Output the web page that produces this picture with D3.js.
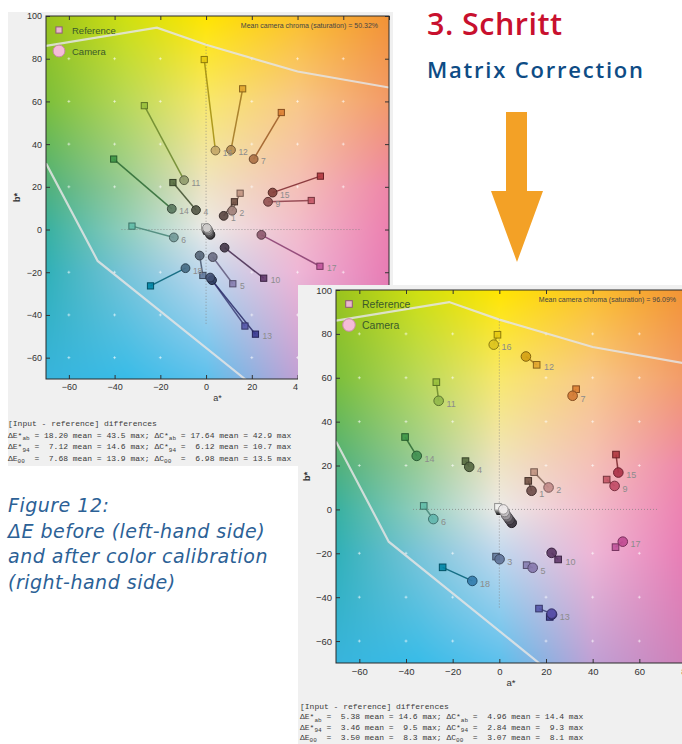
<!DOCTYPE html>
<html><head><meta charset="utf-8">
<script src="https://cdn.jsdelivr.net/npm/d3@7/dist/d3.min.js"></script>
<style>html,body{margin:0;padding:0;background:#fff;overflow:hidden}svg{display:block}</style>
</head><body>
<script>
// ---------------- DATA ----------------
const patchIds = d3.range(1, 25);
const patchL = [37.99,65.71,49.93,43.14,55.11,70.72,62.66,40.02,51.12,30.33,72.53,71.94,28.78,55.26,42.10,81.73,51.94,51.04,96.54,81.26,66.77,50.87,35.66,20.46];
const refA = [12.4,14.9,-1.4,-14.5,11.7,-32.4,32.9,17.0,46.0,25.2,-27.0,16.0,21.6,-40.4,50.0,-0.8,49.8,-24.3,-0.6,-0.4,-0.2,0.0,0.2,0.4];
const refB = [13.0,17.0,-21.5,22.0,-25.4,1.6,54.8,-45.2,13.6,-22.8,58.0,65.9,-49.0,33.0,25.0,79.6,-17.2,-26.4,1.2,0.8,0.4,0.0,-0.4,-0.8];
const camA_before = [7.7,11.4,-2.8,-4.4,2.9,-14.1,20.8,1.8,27.1,8.1,-9.6,10.9,2.6,-15.0,29.1,4.1,24.2,-9.0,0.4,0.8,1.1,1.4,1.7,1.9];
const camB_before = [6.4,8.8,-12.2,9.1,-12.9,-3.7,33.0,-22.5,13.0,-8.5,23.1,37.3,-23.7,9.7,17.3,37.0,-2.5,-18.1,0.7,0.0,-0.8,-1.5,-2.1,-2.5];
const camA_after = [13.8,21.1,0.1,-12.9,14.3,-28.3,31.4,22.4,49.4,22.4,-26.0,11.4,22.6,-35.4,51.0,-2.4,52.9,-11.6,1.7,2.3,2.9,3.6,4.4,5.3];
const camB_after = [8.5,10.0,-22.7,19.4,-26.6,-4.4,51.8,-47.5,10.7,-19.8,49.5,69.7,-47.9,24.4,16.8,75.1,-14.7,-32.6,0.0,-1.2,-2.6,-3.6,-4.8,-6.1];
// which marker carries the number label: c = camera, r = reference, '' = hidden
const labelAt_before = ['c','c','','c','r','c','c','','c','r','c','c','r','c','c','c','r','c'];
const labelAt_after  = ['c','c','c','c','c','c','c','','c','r','c','r','c','c','c','c','c','c'];
const aTicks = [-60,-40,-20,0,20,40,60,80];
const bTicks = [-60,-40,-20,0,20,40,60,80,100];
const gamutTop = [[-70,86],[-21.5,94.5],[0,86.5],[40,74],[80,66.5]];
const gamutBottom = [[-70,31],[-47.4,-14.7],[17,-70],[25,-77]];
const chroma_before = "50.32%", chroma_after = "96.09%";
const diff_before = [[18.20,43.5,17.64,42.9],[7.12,14.6,6.12,10.7],[7.68,13.9,6.98,13.5]];
const diff_after  = [[5.38,14.6,4.96,14.4],[3.46,9.5,2.84,9.3],[3.50,8.3,3.07,8.1]];
const captionLines = ["Figure 12:","\u0394E before (left-hand side)","and after color calibration","(right-hand side)"];
const stepTitle = "3. Schritt", stepSub = "Matrix Correction";

// background colour stops of the a*b* plane
const bgA = [-70,-35,0,40,80];
const bgB = [-70,-20,0,20,60,100];
const bgC = [
  ["#38b4dc","#38bce8","#5cc0ec","#c0a0d4","#d080b8"],
  ["#30b0b8","#78c4d8","#c0d8ee","#eeb6d6","#e87cb4"],
  ["#38b0a0","#90cebc","#eceae8","#f2bccc","#ec80b0"],
  ["#4fb07c","#98cc98","#efe4c4","#f4c0b8","#ee86a8"],
  ["#7cbf3a","#b8d858","#f8e86c","#f8c888","#f29a68"],
  ["#9ac31e","#cfe010","#ffe500","#fbc02a","#f29236"]
];

// ---------------- DRAW ----------------
const svg = d3.select('body').append('svg').attr('width',682).attr('height',744);
const bgRGB = bgC.map(r => r.map(c => { const o = d3.rgb(c); return [o.r,o.g,o.b]; }));

function seg(levels, v){
  let i = 0;
  while (i < levels.length-2 && v > levels[i+1]) i++;
  let t = (v - levels[i])/(levels[i+1]-levels[i]);
  t = Math.max(0, Math.min(1, t));
  return [i, t];
}

function makeBg(x, y){
  const [x0,x1] = x.range(), [y1,y0] = y.range();
  const w = Math.round(x1-x0), h = Math.round(y1-y0);
  const cv = document.createElement('canvas'); cv.width = w; cv.height = h;
  const ctx = cv.getContext('2d'); const img = ctx.createImageData(w,h);
  for (let j=0;j<h;j++){
    const b = y.invert(y0+j+0.5); const [bi,bt] = seg(bgB,b);
    for (let i=0;i<w;i++){
      const a = x.invert(x0+i+0.5); const [ai,at] = seg(bgA,a);
      const c00=bgRGB[bi][ai], c01=bgRGB[bi][ai+1], c10=bgRGB[bi+1][ai], c11=bgRGB[bi+1][ai+1];
      const k=(j*w+i)*4;
      for (let ch=0;ch<3;ch++){
        const top = c00[ch]*(1-at)+c01[ch]*at, bot = c10[ch]*(1-at)+c11[ch]*at;
        img.data[k+ch] = top*(1-bt)+bot*bt;
      }
      img.data[k+3]=255;
    }
  }
  ctx.putImageData(img,0,0);
  return {url: cv.toDataURL(), x:x0, y:y0, w, h};
}

function drawChart(cfg){
  const g = svg.append('g');
  const [px,py,pw,ph] = cfg.panel;
  g.append('rect').attr('x',px).attr('y',py).attr('width',pw).attr('height',ph).attr('fill','#f0f0f0');
  const [x0,y0,x1,y1] = cfg.plot;
  const x = d3.scaleLinear().domain([-70,80]).range([x0,x1]);
  const y = d3.scaleLinear().domain([-70,100]).range([y1,y0]);
  const clipId = 'clip'+cfg.id;
  g.append('clipPath').attr('id',clipId).append('rect').attr('x',x0).attr('y',y0).attr('width',x1-x0).attr('height',y1-y0);
  const bg = makeBg(x,y);
  g.append('image').attr('href',bg.url).attr('x',bg.x).attr('y',bg.y).attr('width',bg.w).attr('height',bg.h).attr('preserveAspectRatio','none');
  const p = g.append('g').attr('clip-path',`url(#${clipId})`);
  // grid marks
  const gridPts = [];
  aTicks.forEach(a => bTicks.forEach(b => { if (a!==0 && b!==0 && b<100 && a<80) gridPts.push([a,b]); }));
  p.selectAll('.gm').data(gridPts).join('path')
    .attr('d', d => `M${x(d[0])-1.5},${y(d[1])}h3M${x(d[0])},${y(d[1])-1.5}v3`)
    .attr('stroke','#ffffff').attr('stroke-opacity',0.5).attr('stroke-width',1);
  // dotted axes
  p.append('line').attr('x1',x(0)).attr('x2',x(0)).attr('y1',y(87)).attr('y2',y(-45))
    .attr('stroke','#808080').attr('stroke-width',0.9).attr('stroke-dasharray','1,2').attr('stroke-opacity',0.8);
  p.append('line').attr('x1',x(-37)).attr('x2',x(68)).attr('y1',y(0)).attr('y2',y(0))
    .attr('stroke','#808080').attr('stroke-width',0.9).attr('stroke-dasharray','1,2').attr('stroke-opacity',0.8);
  // gamut boundary
  const ln = d3.line().x(d=>x(d[0])).y(d=>y(d[1]));
  [gamutTop, gamutBottom].forEach(pts => p.append('path').attr('d',ln(pts)).attr('fill','none')
      .attr('stroke','#e4e4e4').attr('stroke-opacity',0.85).attr('stroke-width',2.2));
  const idx = d3.range(24);
  const refCol = i => d3.lab(patchL[i], refA[i], refB[i]).rgb().clamp();
  const camCol = i => d3.lab(patchL[i]*cfg.camLf, cfg.camA[i], cfg.camB[i]).rgb().clamp();
  // connection lines
  p.selectAll('.cl').data(idx).join('line')
    .attr('x1',i=>x(refA[i])).attr('y1',i=>y(refB[i]))
    .attr('x2',i=>x(cfg.camA[i])).attr('y2',i=>y(cfg.camB[i]))
    .attr('stroke',i=>d3.color(refCol(i)).darker(1)).attr('stroke-width',1.5).attr('stroke-opacity',0.85);
  const order = d3.range(23,-1,-1);
  // reference squares
  const s = cfg.sq;
  p.selectAll('.rs').data(order).join('rect')
    .attr('x',i=>x(refA[i])-s/2).attr('y',i=>y(refB[i])-s/2).attr('width',s).attr('height',s)
    .attr('fill',i=>refCol(i)).attr('fill-opacity',0.9)
    .attr('stroke',i=>d3.color(refCol(i)).darker(1.4)).attr('stroke-width',1);
  // camera circles
  p.selectAll('.cc').data(order).join('circle')
    .attr('cx',i=>x(cfg.camA[i])).attr('cy',i=>y(cfg.camB[i])).attr('r',cfg.r)
    .attr('fill',i=>camCol(i)).attr('fill-opacity',0.92)
    .attr('stroke',i=>d3.color(camCol(i)).darker(1.3)).attr('stroke-width',1);
  // labels
  const lab = d3.range(18).filter(i => cfg.labelAt[i]);
  p.selectAll('.lb').data(lab).join('text')
    .attr('x',i=> cfg.labelAt[i]==='c' ? x(cfg.camA[i])+cfg.r+3 : x(refA[i])+s/2+4)
    .attr('y',i=> cfg.labelAt[i]==='c' ? y(cfg.camB[i])+cfg.r+1 : y(refB[i])+s/2+2)
    .attr('font-family','Liberation Sans, Arial, sans-serif').attr('font-size',cfg.lfs)
    .attr('fill','#8c8c8c').text(i=>patchIds[i]);
  // axes
  const fontAxis = g2 => g2.call(a=>a.select('.domain').remove())
      .attr('font-family','Liberation Sans, Arial, sans-serif').attr('font-size',cfg.tfs)
      .call(a=>a.selectAll('line').attr('stroke','#333'))
      .call(a=>a.selectAll('text').attr('fill','#333'));
  g.append('g').attr('transform',`translate(0,${y1})`).call(d3.axisBottom(x).tickValues(aTicks).tickSizeInner(-4).tickSizeOuter(0).tickPadding(5)).call(fontAxis);
  g.append('g').attr('transform',`translate(0,${y0})`).call(d3.axisTop(x).tickValues(aTicks).tickSizeInner(-4).tickSizeOuter(0).tickFormat('')).call(fontAxis);
  g.append('g').attr('transform',`translate(${x0},0)`).call(d3.axisLeft(y).tickValues(bTicks).tickSizeInner(-4).tickSizeOuter(0).tickPadding(4)).call(fontAxis);
  g.append('g').attr('transform',`translate(${x1},0)`).call(d3.axisRight(y).tickValues(bTicks).tickSizeInner(-4).tickSizeOuter(0).tickFormat('')).call(fontAxis);
  g.append('rect').attr('x',x0).attr('y',y0).attr('width',x1-x0).attr('height',y1-y0)
    .attr('fill','none').attr('stroke','#2a2a2a').attr('stroke-width',1);
  // axis titles
  g.append('text').attr('x',(x0+x1)/2).attr('y',y1+cfg.tfs+13).attr('text-anchor','middle')
    .attr('font-family','Liberation Sans, Arial, sans-serif').attr('font-size',cfg.tfs).attr('fill','#333').text('a*');
  g.append('text').attr('transform',`translate(${x0-26},${(y0+y1)/2}) rotate(-90)`).attr('text-anchor','middle')
    .attr('font-family','Liberation Sans, Arial, sans-serif').attr('font-size',cfg.tfs).attr('font-weight','bold').attr('fill','#333').text('b*');
  // legend
  const lx = x0+13, ly1 = y0+14, ly2 = y0+35;
  g.append('rect').attr('x',lx-s/2).attr('y',ly1-s/2).attr('width',s).attr('height',s)
    .attr('fill','#eab6cf').attr('stroke','#8f5a75').attr('stroke-width',1);
  g.append('circle').attr('cx',lx).attr('cy',ly2).attr('r',cfg.r+1.5)
    .attr('fill','#f5bcd8').attr('stroke','#c98aa8').attr('stroke-width',1);
  const legT = [['Reference',ly1],['Camera',ly2]];
  g.selectAll('.lt').data(legT).join('text').attr('x',lx+13).attr('y',d=>d[1]+3.5)
    .attr('font-family','Liberation Sans, Arial, sans-serif').attr('font-size',cfg.legfs)
    .attr('fill','#3a5a2a').text(d=>d[0]);
  // chroma
  g.append('text').attr('x',cfg.chromaX).attr('y',y0+12).attr('text-anchor','end')
    .attr('font-family','Liberation Sans, Arial, sans-serif').attr('font-size',7).attr('fill','#444')
    .text('Mean camera chroma (saturation) = '+cfg.chroma);
  // diff text
  const mono = 'Liberation Mono, Courier New, monospace';
  const tg = g.append('g').attr('font-family',mono).attr('font-size',8).attr('fill','#3a3a3a');
  tg.append('text').attr('x',cfg.tx).attr('y',cfg.ty).text('[Input - reference] differences');
  const f2 = d3.format('.2f'), f1 = d3.format('.1f');
  const pad = (s,n) => (' '.repeat(n)+s).slice(-n);
  const subs = [['E*','ab','C*','ab'],['E*','94','C*','94'],['E','00','C','00']];
  cfg.diffs.forEach((d,k) => {
    const t = tg.append('text').attr('x',cfg.tx).attr('y',cfg.ty+cfg.tl*(k+1));
    const sp = subs[k][0].length===1 ? '  ' : ' ';
    const parts = [
      ['\u0394'+subs[k][0],0],[subs[k][1],1],
      [sp+'= '+pad(f2(d[0]),5)+' mean = '+pad(f1(d[1]),4)+' max; \u0394'+subs[k][2],0],[subs[k][3],1],
      [sp+'= '+pad(f2(d[2]),5)+' mean = '+pad(f1(d[3]),4)+' max',0]
    ];
    let prevSub = 0;
    parts.forEach(([txt,sub]) => {
      const ts = t.append('tspan').text(txt.replace(/ /g,'\u00a0'));
      if (sub) ts.attr('font-size',6).attr('dy',2.5);
      else if (prevSub) ts.attr('dy',-2.5);
      prevSub = sub;
    });
  });
}

drawChart({id:'L', panel:[8,12,385,454], plot:[46,16,389,379], camA:camA_before, camB:camB_before, camLf:0.86,
  labelAt:labelAt_before, r:4.4, sq:6.2, lfs:8.5, tfs:9, legfs:9.5, chroma:chroma_before, chromaX:378,
  diffs:diff_before, tx:8, ty:426, tl:11.5});
drawChart({id:'R', panel:[298,285,384,459], plot:[336,290,686,663], camA:camA_after, camB:camB_after, camLf:0.97,
  labelAt:labelAt_after, r:4.8, sq:6.6, lfs:9, tfs:9.5, legfs:10.5, chroma:chroma_after, chromaX:676,
  diffs:diff_after, tx:300, ty:709, tl:10.3});

// ---------------- ANNOTATIONS ----------------
svg.append('text').attr('x',427).attr('y',35).attr('font-family','Open Sans, sans-serif').attr('font-weight',600)
  .attr('font-size',30.5).attr('fill','#c8102e').attr('textLength',135).attr('lengthAdjust','spacing').text(stepTitle);
svg.append('text').attr('x',427).attr('y',78).attr('font-family','Open Sans, sans-serif').attr('font-weight',600)
  .attr('font-size',22).attr('fill','#0e4c85').attr('textLength',216).attr('lengthAdjust','spacing').text(stepSub);
svg.append('path').attr('d','M506,112H527V191H543L517,262L491,191H506Z').attr('fill','#f3a126');
svg.append('g').selectAll('text').data(captionLines).join('text')
  .attr('x',8).attr('y',(d,i)=>512+i*25.5)
  .attr('font-family','DejaVu Sans ExtraLight, DejaVu Sans, sans-serif').attr('font-style','oblique').attr('font-weight',200)
  .attr('font-size',19).attr('letter-spacing',0.5).attr('fill','#2c6196').text(d=>d);
</script>
</body></html>
